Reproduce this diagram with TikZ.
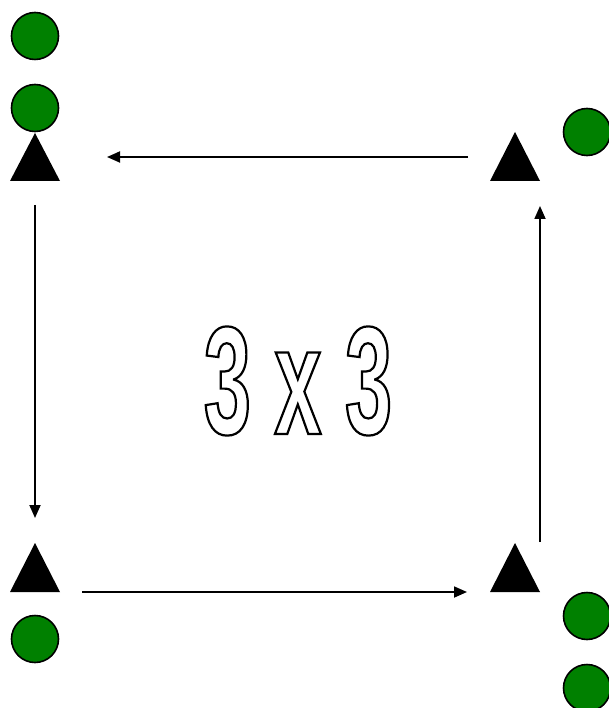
\documentclass[tikz,border=0pt]{standalone}
\usepackage{fontspec}
\usetikzlibrary{arrows.meta}
\newfontfamily\bigfont[FakeStretch=0.55]{Liberation Sans Bold}
\definecolor{playergreen}{RGB}{0,128,0}
\newcommand{\outlinetext}[1]{\special{pdf:literal direct 1 Tr 2.2 w}#1\special{pdf:literal direct 0 Tr}}
\begin{document}
\begin{tikzpicture}[x=1pt,y=-1pt,
  player/.style={circle,draw=black,line width=1.6pt,fill=playergreen,minimum size=47pt,inner sep=0pt},
  cone/.style={fill=black},
  runline/.style={line width=1.8pt,-{Triangle[length=13pt,width=11pt]}}]
\useasboundingbox (0,0) rectangle (608,708);
% players
\node[player] (p1) at (35,36) {};
\node[player] (p2) at (35,108) {};
\node[player] (p3) at (587,132) {};
\node[player] (p4) at (35,639) {};
\node[player] (p5) at (587,616) {};
\node[player] (p6) at (587,688) {};
% cones
\fill[cone] (35,133) -- (60,181) -- (10,181) -- cycle;
\fill[cone] (515,132) -- (540,181) -- (490,181) -- cycle;
\fill[cone] (35,543) -- (60,592) -- (10,592) -- cycle;
\fill[cone] (515,543) -- (540,592) -- (490,592) -- cycle;
% arrow ends
\coordinate (tS) at (468,157);
\coordinate (tE) at (107,157);
\coordinate (lS) at (35,205);
\coordinate (lE) at (35,518);
\coordinate (bS) at (82,592);
\coordinate (bE) at (467,592);
\coordinate (rS) at (540,542);
\coordinate (rE) at (540,206);
\draw[runline] (tS) -- (tE);
\draw[runline] (lS) -- (lE);
\draw[runline] (bS) -- (bE);
\draw[runline] (rS) -- (rE);
% title
\node[inner sep=0pt] (title) at (298,381) {\fontsize{154}{160}\bigfont\color{black}\outlinetext{3 x 3}};
\end{tikzpicture}
\end{document}
